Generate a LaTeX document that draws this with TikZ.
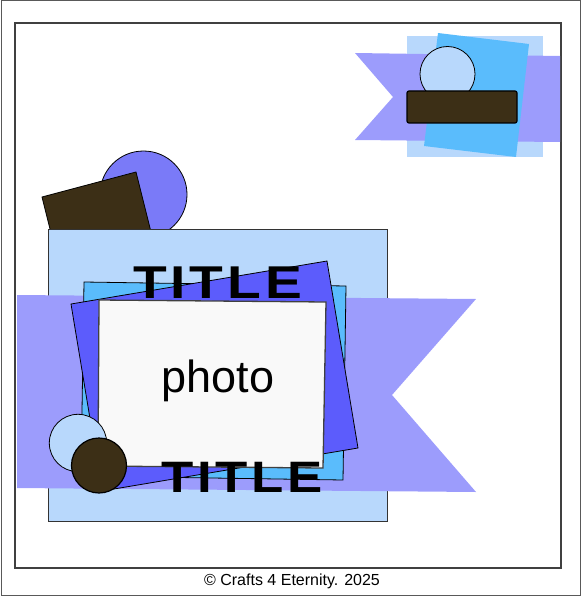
\documentclass[tikz,border=0pt]{standalone}
\usepackage{fontspec}
\setmainfont{Liberation Sans}
\newfontfamily\titlefont[LetterSpace=7]{Liberation Sans}
\definecolor{paleblue}{HTML}{B8D8FC}
\definecolor{ribbonblue}{HTML}{9C9CFC}
\definecolor{skyblue}{HTML}{5ABCFC}
\definecolor{royalblue}{HTML}{5C5CFC}
\definecolor{violetdot}{HTML}{7A7AF8}
\definecolor{darkbrown}{HTML}{3C2F16}
\definecolor{photowhite}{HTML}{F9F9F9}

\begin{document}
\begin{tikzpicture}[
        x=1pt, y=-1pt,
        edge/.style={draw=black, line width=0.8pt},
        titletext/.style={inner sep=0pt, xscale=1.2, font=\titlefont\bfseries}
    ]
        \useasboundingbox (0,0) rectangle (581,596);
        \draw [black!65, line width=1pt] (1,1) rectangle (580,595);
        \draw [black!75, line width=1.5pt] (15,23) rectangle (561,568);

        \fill [paleblue] (407,36) rectangle (543,157);
        \fill [ribbonblue] (355,53) -- (560,56) -- (560,142) -- (355,140)
            -- (393,97) -- cycle;
        \fill [skyblue] (438,33) -- (529,44) -- (516,157) -- (424,146) -- cycle;
        \filldraw [paleblue, edge] (447.5,74) circle [radius=27.5];
        \filldraw [darkbrown, edge, line width=1.2pt, rounded corners=2pt]
            (407,91) rectangle (517,123);

        \filldraw [violetdot, edge] (143.5,194.5) circle [radius=43.5];
        \filldraw [darkbrown, edge] (42,197) -- (136,172) -- (152,236)
            -- (58,261) -- cycle;
        \filldraw [paleblue, draw=black!80, line width=0.8pt]
            (48,229) rectangle (387,521);
        \fill [ribbonblue] (17,295) -- (476,299) -- (392,395) -- (476,492)
            -- (17,488) -- cycle;
        \filldraw [skyblue, edge] (84,282) -- (346,286) -- (343,480)
            -- (81,476) -- cycle;
        \filldraw [royalblue, edge] (71,304) -- (327,261) -- (358,448)
            -- (102,491) -- cycle;
        \node [titletext, anchor=base] (titletop) at (217.5,298)
            {\fontsize{46}{46}\selectfont TITLE};
        \filldraw [photowhite, draw=black!75, line width=1.3pt] (99,300)
            -- (326,302) -- (323,468) -- (98,466) -- cycle;
        \node [inner sep=0pt, anchor=base, font=\fontsize{45}{45}\selectfont]
            (photo) at (218,392) {photo};
        \node [titletext, anchor=base] (titlebottom) at (242,492)
            {\fontsize{44}{44}\selectfont TITLE};

        \filldraw [paleblue, edge] (78,443) circle [radius=28.7];
        \filldraw [darkbrown, edge, line width=1.2pt] (99,465.5) circle [radius=27.5];

        \node [inner sep=0pt, anchor=base, font=\fontsize{16}{16}\selectfont]
            (credit) at (292,585) {© Crafts 4 Eternity. 2025};
    \end{tikzpicture}
\end{document}
